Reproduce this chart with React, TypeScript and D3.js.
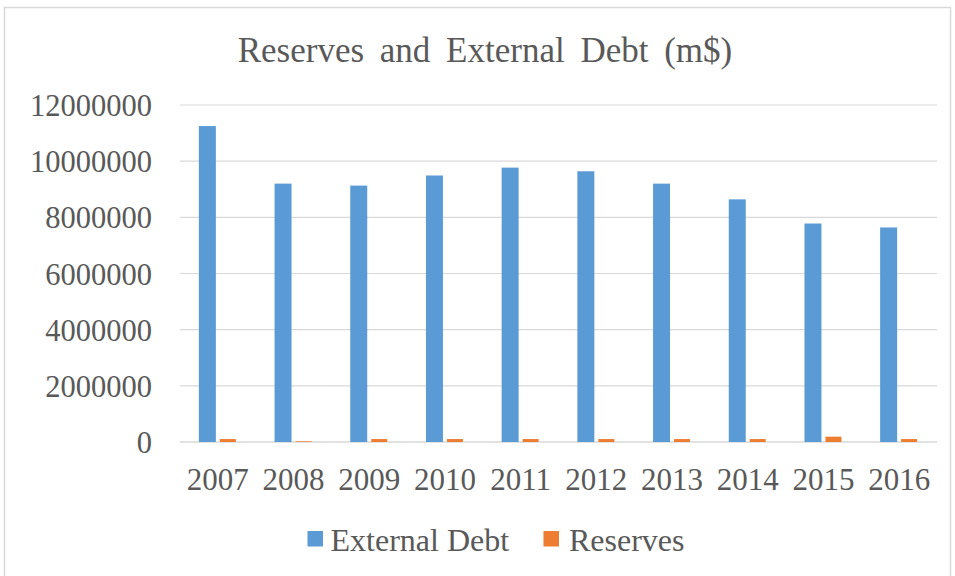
import React from "react";
import * as d3 from "d3";

const years = ["2007", "2008", "2009", "2010", "2011", "2012", "2013", "2014", "2015", "2016"];
const externalDebt = [11250000, 9200000, 9130000, 9490000, 9770000, 9640000, 9200000, 8640000, 7780000, 7640000];
const reserves = [105000, 25000, 105000, 105000, 105000, 105000, 105000, 105000, 190000, 105000];
const yTicks = [0, 2000000, 4000000, 6000000, 8000000, 10000000, 12000000];
const seriesNames = ["External Debt", "Reserves"];
const colors = ["#5B9BD5", "#ED7D31"];

export default function App() {
  const W = 955, H = 576;
  const left = 180, right = 937, top = 105, bottom = 442;
  const x = d3.scaleBand<string>().domain(years).range([left, right]).padding(0);
  const y = d3.scaleLinear().domain([0, 12000000]).range([bottom, top]);
  const barW = 17;
  const gap = 4;
  const font = "'Liberation Serif', 'Times New Roman', serif";
  const textColor = "#595959";
  return (
    <svg width={W} height={H} style={{ position: "absolute", left: 0, top: 0, background: "#fff" }}>
      <rect x={4.5} y={7.5} width={946} height={575} fill="#fff" stroke="#D9D9D9" strokeWidth={1.5} />
      <text x={485} y={62} textAnchor="middle" fontFamily={font} fontSize={35} fill={textColor} wordSpacing={7}>
        Reserves and External Debt (m$)
      </text>
      {yTicks.map((t) => (
        <g key={t}>
          <line x1={left} x2={right} y1={y(t)} y2={y(t)} stroke="#D9D9D9" strokeWidth={t === 0 ? 1.5 : 1.2} />
          <text x={152} y={y(t) + 11} textAnchor="end" fontFamily={font} fontSize={30.5} fill={textColor}>
            {t}
          </text>
        </g>
      ))}
      {years.map((yr, i) => {
        const c = (x(yr) as number) + x.bandwidth() / 2;
        return (
          <g key={yr}>
            <rect x={c - gap / 2 - barW} y={y(externalDebt[i])} width={barW} height={bottom - y(externalDebt[i])} fill={colors[0]} />
            <rect x={c + gap / 2} y={y(reserves[i])} width={barW - 1} height={bottom - y(reserves[i])} fill={colors[1]} />
            <text x={c} y={490} textAnchor="middle" fontFamily={font} fontSize={31} fill={textColor}>
              {yr}
            </text>
          </g>
        );
      })}
      <g>
        <rect x={307.5} y={531} width={15.5} height={15.5} fill={colors[0]} />
        <text x={330.5} y={551} fontFamily={font} fontSize={32} fill={textColor}>{seriesNames[0]}</text>
        <rect x={543.5} y={531} width={15.5} height={15.5} fill={colors[1]} />
        <text x={569} y={551} fontFamily={font} fontSize={32} fill={textColor}>{seriesNames[1]}</text>
      </g>
    </svg>
  );
}
